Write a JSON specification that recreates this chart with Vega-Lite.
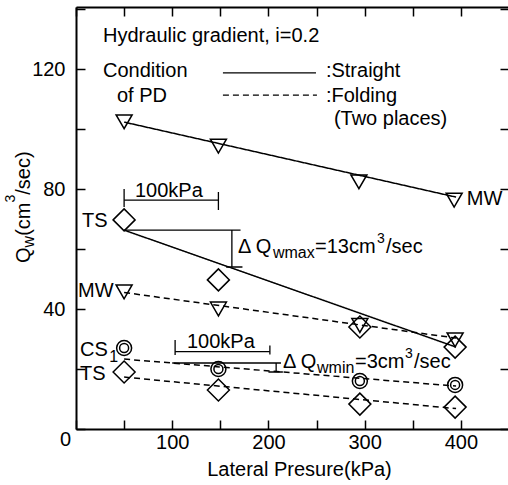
{
  "$schema": "https://vega.github.io/schema/vega-lite/v6.json",
  "width": 433,
  "height": 422,
  "autosize": {"type": "none"},
  "padding": {"left": 76, "top": 7, "right": 0, "bottom": 56},
  "background": "white",
  "config": {
    "view": {"stroke": null},
    "font": "Liberation Sans",
    "axis": {
      "domainColor": "black", "domainWidth": 2, "tickColor": "black", "tickWidth": 1.5,
      "tickSize": -9, "labelFont": "Liberation Sans", "labelFontSize": 20, "labelColor": "black",
      "titleFont": "Liberation Sans", "titleFontSize": 20, "titleFontWeight": "normal", "titleColor": "black",
      "grid": false, "labelOverlap": false, "labelFlush": false
    }
  },
  "datasets": {
    "pts": [
      {"series": "MW straight", "marker": "tri", "x": 50, "y": 102.4},
      {"series": "MW straight", "marker": "tri", "x": 148, "y": 94.3},
      {"series": "MW straight", "marker": "tri", "x": 294, "y": 82.4},
      {"series": "MW straight", "marker": "tri", "x": 393, "y": 76.3},
      {"series": "TS straight", "marker": "dia", "x": 50, "y": 69.7},
      {"series": "TS straight", "marker": "dia", "x": 148, "y": 49.7},
      {"series": "TS straight", "marker": "dia", "x": 295, "y": 34},
      {"series": "TS straight", "marker": "dia", "x": 394, "y": 27.3},
      {"series": "MW folding", "marker": "tri", "x": 50, "y": 45.7},
      {"series": "MW folding", "marker": "tri", "x": 148, "y": 40},
      {"series": "MW folding", "marker": "tri", "x": 295, "y": 34.5},
      {"series": "MW folding", "marker": "tri", "x": 394, "y": 29.7},
      {"series": "CS1 folding", "marker": "circ", "x": 50, "y": 27},
      {"series": "CS1 folding", "marker": "circ", "x": 148, "y": 20},
      {"series": "CS1 folding", "marker": "circ", "x": 295, "y": 16},
      {"series": "CS1 folding", "marker": "circ", "x": 394, "y": 14.7},
      {"series": "TS folding", "marker": "dia", "x": 50, "y": 19},
      {"series": "TS folding", "marker": "dia", "x": 148, "y": 13},
      {"series": "TS folding", "marker": "dia", "x": 295, "y": 8.3},
      {"series": "TS folding", "marker": "dia", "x": 394, "y": 7.3}
    ],
    "fits": [
      {"series": "MW straight", "style": "solid", "x": 50, "y": 102.3},
      {"series": "MW straight", "style": "solid", "x": 395, "y": 77.3},
      {"series": "TS straight", "style": "solid", "x": 50, "y": 66.3},
      {"series": "TS straight", "style": "solid", "x": 395, "y": 27.3},
      {"series": "MW folding", "style": "dashed", "x": 50, "y": 45.5},
      {"series": "MW folding", "style": "dashed", "x": 395, "y": 30.3},
      {"series": "CS1 folding", "style": "dashed", "x": 50, "y": 23.3},
      {"series": "CS1 folding", "style": "dashed", "x": 395, "y": 14.3},
      {"series": "TS folding", "style": "dashed", "x": 50, "y": 17.3},
      {"series": "TS folding", "style": "dashed", "x": 395, "y": 6.8}
    ],
    "segs": [
      {"style": "solid", "x": 50, "y": 76.3, "x2": 148, "y2": 76.3},
      {"style": "solid", "x": 50, "y": 80, "x2": 50, "y2": 74},
      {"style": "solid", "x": 148, "y": 79, "x2": 148, "y2": 73},
      {"style": "solid", "x": 50, "y": 66.3, "x2": 171, "y2": 66.3},
      {"style": "solid", "x": 156, "y": 54, "x2": 173, "y2": 54},
      {"style": "solid", "x": 162, "y": 66.3, "x2": 162, "y2": 54},
      {"style": "solid", "x": 103, "y": 29.7, "x2": 103, "y2": 24.7},
      {"style": "solid", "x": 103, "y": 25.8, "x2": 201.5, "y2": 25.8},
      {"style": "solid", "x": 201.5, "y": 27.8, "x2": 201.5, "y2": 24.8},
      {"style": "solid", "x": 100, "y": 22, "x2": 213, "y2": 22},
      {"style": "solid", "x": 200, "y": 19, "x2": 215, "y2": 19},
      {"style": "solid", "x": 208, "y": 22, "x2": 208, "y2": 19},
      {"style": "solid", "x": 152.7, "y": 118.7, "x2": 249.4, "y2": 118.7},
      {"style": "dashed", "x": 152.7, "y": 111.3, "x2": 250.4, "y2": 111.3}
    ],
    "textMain": [
      {"text": "Hydraulic gradient, i=0.2", "x": 28.1, "y": 129},
      {"text": "Condition", "x": 28.1, "y": 117.3},
      {"text": "of PD", "x": 42.6, "y": 109},
      {"text": ":Straight", "x": 259.7, "y": 117.3},
      {"text": ":Folding", "x": 259.7, "y": 109},
      {"text": "(Two places)", "x": 268, "y": 101.3},
      {"text": "100kPa", "x": 61.3, "y": 77.3},
      {"text": "100kPa", "x": 115.3, "y": 27},
      {"text": "TS", "x": 6.2, "y": 67.3},
      {"text": "MW", "x": 406.2, "y": 74.7},
      {"text": "MW", "x": 2.1, "y": 44},
      {"text": "CS", "x": 4.2, "y": 24.3},
      {"text": "TS", "x": 4.2, "y": 16.3},
      {"text": "Δ Q", "x": 168.3, "y": 58.7},
      {"text": "=13cm", "x": 248.4, "y": 58.7},
      {"text": "/sec", "x": 322.2, "y": 58.7},
      {"text": "Δ Q", "x": 215.1, "y": 20.3},
      {"text": "=3cm", "x": 290, "y": 20.3},
      {"text": "/sec", "x": 351.3, "y": 20.3},
      {"text": "0", "x": -16.6, "y": -5.7}
    ],
    "textSub": [
      {"text": "wmax", "x": 204.7, "y": 57},
      {"text": "wmin", "x": 250.5, "y": 18.7},
      {"text": "1", "x": 34.5, "y": 22.2}
    ],
    "textSup": [
      {"text": "3", "x": 312.8, "y": 62},
      {"text": "3", "x": 341.9, "y": 23.7}
    ],
    "rotMain": [
      {"text": "Q", "x": -47.8, "y": 55.3},
      {"text": "(cm", "x": -47.8, "y": 64.4},
      {"text": "/sec)", "x": -47.8, "y": 78.1}
    ],
    "rotSub": [
      {"text": "w", "x": -43.6, "y": 60.5}
    ],
    "rotSup": [
      {"text": "3", "x": -63.4, "y": 75.5}
    ]
  },
  "encoding": {
    "x": {"field": "x", "type": "quantitative", "scale": {"domain": [0, 450], "nice": false, "zero": false}, "axis": null},
    "y": {"field": "y", "type": "quantitative", "scale": {"domain": [0, 140.67], "nice": false, "zero": false}, "axis": null}
  },
  "resolve": {"axis": {"x": "independent", "y": "independent"}},
  "layer": [
    {
      "data": {"name": "fits"},
      "mark": {"type": "line", "color": "black", "strokeWidth": 1.5},
      "encoding": {
        "x": {"field": "x", "type": "quantitative", "scale": {"domain": [0, 450], "nice": false, "zero": false},
          "axis": {"orient": "bottom", "values": [0, 50, 100, 150, 200, 250, 300, 350, 400, 450],
            "labelExpr": "datum.value > 0 && datum.value <= 400 && datum.value % 100 == 0 ? datum.label : ''",
            "title": "Lateral Presure(kPa)", "labelPadding": 12, "titleX": 223, "titleY": 46, "titleBaseline": "alphabetic"}},
        "y": {"field": "y", "type": "quantitative", "scale": {"domain": [0, 140.67], "nice": false, "zero": false},
          "axis": {"orient": "left", "values": [0, 20, 40, 60, 80, 100, 120, 140],
            "labelExpr": "datum.value > 0 && datum.value % 40 == 0 ? datum.label : ''",
            "title": null, "labelPadding": 20}},
        "detail": {"field": "series"},
        "strokeDash": {"field": "style", "type": "nominal", "scale": {"domain": ["solid", "dashed"], "range": [[1, 0], [6, 4]]}, "legend": null}
      }
    },
    {
      "data": {"name": "pts"},
      "mark": {"type": "point", "opacity": 0},
      "encoding": {
        "x": {"field": "x", "type": "quantitative", "scale": {"domain": [0, 450], "nice": false, "zero": false},
          "axis": {"orient": "top", "values": [0, 50, 100, 150, 200, 250, 300, 350, 400, 450], "labels": false, "title": null}},
        "y": {"field": "y", "type": "quantitative", "scale": {"domain": [0, 140.67], "nice": false, "zero": false},
          "axis": {"orient": "right", "values": [0, 20, 40, 60, 80, 100, 120, 140], "labels": false, "title": null}}
      }
    },
    {
      "data": {"name": "segs"},
      "mark": {"type": "rule", "color": "black", "strokeWidth": 1.3},
      "encoding": {
        "x2": {"field": "x2"},
        "y2": {"field": "y2"},
        "strokeDash": {"field": "style", "type": "nominal", "scale": {"domain": ["solid", "dashed"], "range": [[1, 0], [6, 4]]}, "legend": null}
      }
    },
    {
      "data": {"name": "pts"},
      "transform": [{"filter": "datum.marker == 'tri'"}],
      "mark": {"type": "point", "shape": "triangle-down", "size": 256, "color": "black", "strokeWidth": 1.5, "filled": false, "opacity": 1}
    },
    {
      "data": {"name": "pts"},
      "transform": [{"filter": "datum.marker == 'dia'"}],
      "mark": {"type": "point", "shape": "diamond", "size": 484, "color": "black", "strokeWidth": 1.5, "filled": false, "opacity": 1}
    },
    {
      "data": {"name": "pts"},
      "transform": [{"filter": "datum.marker == 'circ'"}],
      "mark": {"type": "point", "shape": "circle", "size": 225, "color": "black", "strokeWidth": 1.5, "filled": false, "opacity": 1}
    },
    {
      "data": {"name": "pts"},
      "transform": [{"filter": "datum.marker == 'circ'"}],
      "mark": {"type": "point", "shape": "circle", "size": 81, "color": "black", "strokeWidth": 1.5, "filled": false, "opacity": 1}
    },
    {
      "data": {"name": "textMain"},
      "mark": {"type": "text", "fontSize": 20, "align": "left", "baseline": "alphabetic", "color": "black"},
      "encoding": {"text": {"field": "text"}}
    },
    {
      "data": {"name": "textSub"},
      "mark": {"type": "text", "fontSize": 16, "align": "left", "baseline": "alphabetic", "color": "black"},
      "encoding": {"text": {"field": "text"}}
    },
    {
      "data": {"name": "textSup"},
      "mark": {"type": "text", "fontSize": 14, "align": "left", "baseline": "alphabetic", "color": "black"},
      "encoding": {"text": {"field": "text"}}
    },
    {
      "data": {"name": "rotMain"},
      "mark": {"type": "text", "fontSize": 20, "align": "left", "baseline": "alphabetic", "angle": 270, "color": "black"},
      "encoding": {"text": {"field": "text"}}
    },
    {
      "data": {"name": "rotSub"},
      "mark": {"type": "text", "fontSize": 16, "align": "left", "baseline": "alphabetic", "angle": 270, "color": "black"},
      "encoding": {"text": {"field": "text"}}
    },
    {
      "data": {"name": "rotSup"},
      "mark": {"type": "text", "fontSize": 14, "align": "left", "baseline": "alphabetic", "angle": 270, "color": "black"},
      "encoding": {"text": {"field": "text"}}
    }
  ]
}
